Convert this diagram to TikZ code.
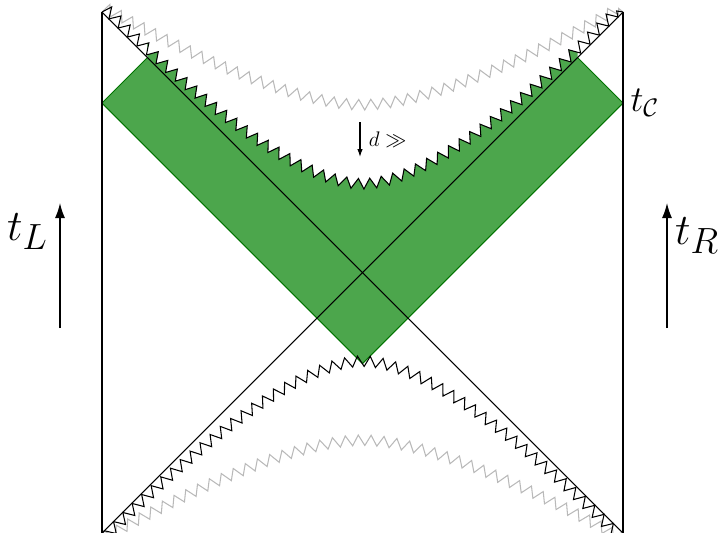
\documentclass[tikz,border=0pt]{standalone}
\usetikzlibrary{decorations.pathmorphing,arrows.meta}
\begin{document}
\begin{tikzpicture}[x=1cm, y=1cm, line width=0.6pt,
  sawdeco/.style={decoration={zigzag, segment length=2.6mm, amplitude=1.05mm, raise=#1}},
  sawdeco/.default=1.05mm,
  band/.style={fill=green!50!black, fill opacity=0.7},
  timearrow/.style={-{Latex[length=3mm, width=2mm]}, line width=0.8pt}]
  \useasboundingbox (-7.25,-5.19) rectangle (7.13,5.45);
  % corners of the diagram
  \coordinate (NW) at (-5.21,5.21);
  \coordinate (NE) at (5.21,5.21);
  \coordinate (SW) at (-5.21,-5.21);
  \coordinate (SE) at (5.21,-5.21);
  % corners of the green band
  \coordinate (gW) at (-5.21,3.39);
  \coordinate (gNW) at (-4.30,4.30);
  \coordinate (gNE) at (4.30,4.30);
  \coordinate (gE) at (5.21,3.39);
  \coordinate (gS) at (0,-1.82);

  \begin{scope}
    \clip (gW) -- (gNW) -- (-4.30,6) -- (4.30,6) -- (gNE) -- (gE) -- (gS) -- cycle;
    \fill[band] decorate[sawdeco] {(NW) .. controls (-3.6,3.6) and (-1.4,1.67) .. (0,1.67)
      .. controls (1.4,1.67) and (3.6,3.6) .. (NE)} -- (5.21,-3) -- (-5.21,-3) -- cycle;
  \end{scope}
  \draw[green!45!black] (gNW) -- (gW) -- (gS) -- (gE) -- (gNE);

  % singularities
  \draw[gray!55, sawdeco, decorate] (NW) .. controls (-2.84,3.90) and (-1.10,3.25) .. (0,3.25)
    .. controls (1.10,3.25) and (2.84,3.90) .. (NE);
  \draw[sawdeco, decorate] (NW) .. controls (-3.6,3.6) and (-1.4,1.67) .. (0,1.67)
    .. controls (1.4,1.67) and (3.6,3.6) .. (NE);
  \draw[gray!55, sawdeco=-1.05mm, decorate] (SW) .. controls (-2.84,-3.90) and (-1.10,-3.25) .. (0,-3.25)
    .. controls (1.10,-3.25) and (2.84,-3.90) .. (SE);
  \draw[sawdeco=-1.05mm, decorate] (SW) .. controls (-3.6,-3.6) and (-1.4,-1.67) .. (0,-1.67)
    .. controls (1.4,-1.67) and (3.6,-3.6) .. (SE);

  % boundaries and horizons
  \draw (NW) -- (SW);
  \draw (NE) -- (SE);
  \draw (NW) -- (SE);
  \draw (NE) -- (SW);

  % shift of the singularity
  \coordinate (dtop) at (-0.05,3.01);
  \coordinate (dbot) at (-0.05,2.31);
  \draw[-{Latex[length=1.6mm, width=1.1mm]}] (dtop) -- (dbot);
  \node[anchor=west, inner sep=1pt, font=\large] (dlab) at (0.08,2.66) {$d \gg$};

  % boundary times
  \node[right, font=\huge, inner sep=4pt] (tC) at (gE) {$t_{\mathcal{C}}$};
  \coordinate (tLfoot) at (-6.05,-1.11);
  \coordinate (tLtip) at (-6.05,1.39);
  \draw[timearrow] (tLfoot) -- (tLtip);
  \node[font=\Huge] (tL) at (-6.70,0.82) {$t_L$};
  \coordinate (tRfoot) at (6.09,-1.11);
  \coordinate (tRtip) at (6.09,1.39);
  \draw[timearrow] (tRfoot) -- (tRtip);
  \node[font=\Huge] (tR) at (6.69,0.74) {$t_R$};
\end{tikzpicture}
\end{document}
